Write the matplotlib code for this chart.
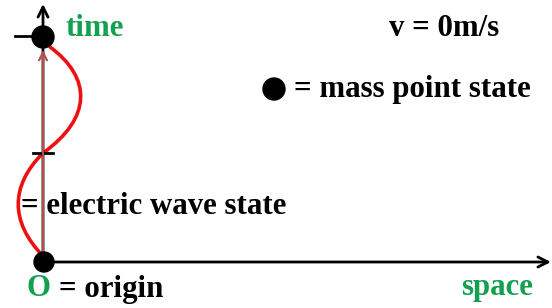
import matplotlib.pyplot as plt
from matplotlib.patches import Circle, PathPatch
from matplotlib.path import Path

# labels
axis_labels = ["time", "space"]
speed_text = "v = 0m/s"
legend_mass = "= mass point state"
legend_wave = "= electric wave state"
origin_mark = "O"
origin_text = "= origin"

GREEN = '#13a04f'
FONT = 'Liberation Serif'


def draw_axes(ax):
    #vertical (time) and horizontal (space) arrows
    ax.annotate('', xy=(43, 4), xytext=(43, 263),
                arrowprops=dict(arrowstyle='->', lw=2, color='black',
                                mutation_scale=18, shrinkA=0, shrinkB=0))
    ax.annotate('', xy=(551, 262), xytext=(42, 262),
                arrowprops=dict(arrowstyle='->', lw=2, color='black',
                                mutation_scale=18, shrinkA=0, shrinkB=0))
    #ticks
    ax.plot([15, 43], [36, 36], color='black', lw=2)
    ax.plot([33, 53], [153, 153], color='black', lw=2)


def draw_wave(ax):
    #red wave, one period between origin and top dot
    verts = [(43, 256), (10, 222), (10, 186), (43, 153),
             (92, 118), (92, 78), (50, 47)]
    codes = [Path.MOVETO] + [Path.CURVE4] * 6
    ax.add_patch(PathPatch(Path(verts, codes), fill=False,
                           edgecolor='#ee1111', lw=2.6, capstyle='round'))
    #brown arrow along time axis
    ax.annotate('', xy=(43, 50), xytext=(43, 262),
                arrowprops=dict(arrowstyle='->', lw=1.6, color='#b05050',
                                mutation_scale=14, shrinkA=0, shrinkB=0))


def main():
    fig = plt.figure(figsize=(5.52, 3.08), dpi=100)
    ax = fig.add_axes([0, 0, 1, 1])
    ax.set_xlim(0, 552)
    ax.set_ylim(308, 0)
    ax.axis('off')

    draw_axes(ax)
    draw_wave(ax)

    #mass points
    ax.add_patch(Circle((43, 37), 11, color='black', zorder=5))
    ax.add_patch(Circle((44, 262), 10, color='black', zorder=5))
    ax.add_patch(Circle((274, 89), 11, color='black', zorder=5))

    kw = dict(fontfamily=FONT, fontweight='bold', fontsize=22.2, va='center')
    ax.text(65, 29, axis_labels[0], color=GREEN, **kw)
    ax.text(461, 287, axis_labels[1], color=GREEN, **kw)
    ax.text(389, 28, speed_text, color='black', **kw)
    ax.text(294, 90, legend_mass, color='black', **kw)
    ax.text(21, 206, legend_wave, color='black', **kw)
    ax.text(27, 289, origin_mark, color=GREEN, **kw)
    ax.text(59, 289, origin_text, color='black', **kw)

    fig.savefig('out.png', dpi=100)


if __name__ == "__main__":
    main()
